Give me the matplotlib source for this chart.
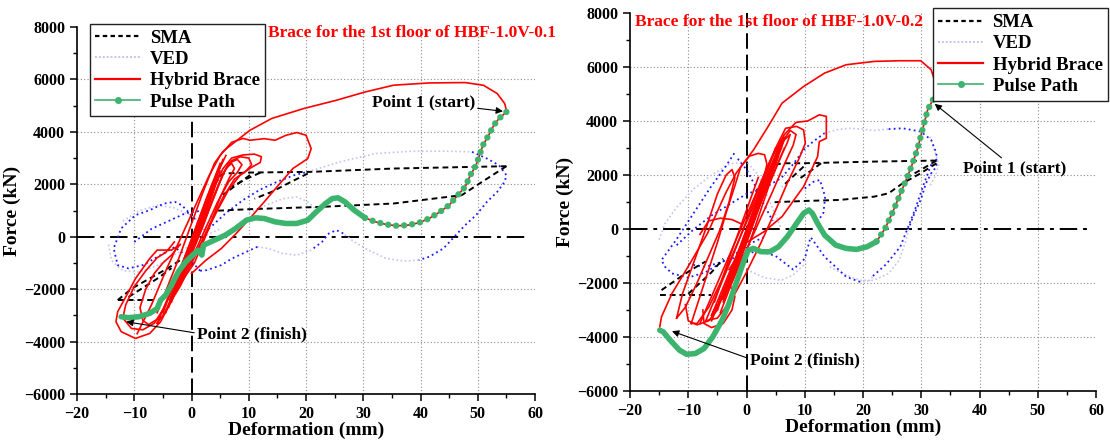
import matplotlib
matplotlib.use("Agg")
import matplotlib.pyplot as plt
from matplotlib.lines import Line2D
from matplotlib.ticker import MultipleLocator

plt.rcParams['font.family'] = ['Liberation Serif', 'DejaVu Serif']
plt.rcParams['font.weight'] = 'bold'
plt.rcParams['axes.labelweight'] = 'bold'

RED = '#ff0000'
GREEN = '#3cb46e'
DBLUE = '#1a1aff'
FBLUE = '#c4c4f4'

# ---------------- Left panel (HBF-1.0V-0.1) ----------------
A_title = "Brace for the 1st floor of HBF-1.0V-0.1"
A_pulse_x = [55.0, 53.7, 52.8, 51.9, 50.9, 50.3, 49.7, 48.7, 47.8, 46.5, 45.0, 43.4, 41.5, 39.7, 37.8,
             35.9, 34.0, 32.1, 30.3, 28.4, 26.8, 25.6, 24.6, 23.4, 21.8, 20.3, 18.4, 16.5, 14.6, 12.7,
             11.2, 9.6, 7.7, 5.9, 4.0, 2.1, 1.8, 1.2, 0.2, -1.0, -2.3, -3.5, -4.5, -5.4, -6.0, -7.3,
             -9.2, -11.0, -12.3]
A_pulse_y = [4760, 4506, 4252, 3871, 3490, 3109, 2728, 2347, 1902, 1584, 1203, 949, 695, 530, 441,
             416, 467, 568, 721, 1013, 1330, 1483, 1457, 1267, 949, 632, 505, 505, 568, 695,
             721, 632, 314, 60, -131, -321, -700, -512, -702, -956, -1337, -1845, -2227, -2417, -2735, -2925,
             -3052, -3090, -3052]
A_fast_end = 18   # index where the sparsely sampled (dotted-looking) part of the pulse path ends

A_red = [
    ([-6.0, -4.0, -2.0, 0.0, 2.0, 4.0, 5.5, 6.5, 10.2, 14.0, 19.6, 25.3, 30.3, 35.3, 41.5, 47.8, 51.0, 53.4, 54.7, 55.0],
     [-2900, -1800, -700, 500, 1700, 2800, 3250, 3430, 4060, 4510, 4890, 5205, 5520, 5780, 5866, 5880, 5777, 5460, 5080, 4820]),
    ([-9.5, -7.0, -4.5, -2.0, 0.5, 3.0, 5.0, 7.0, 9.0, 10.2, 12.7, 14.6, 16.5, 18.4, 20.0, 20.9, 20.3, 17.7, 15.2, 12.7, 10.2, 7.7, 5.2, 2.5, 0.0],
     [-3700, -2600, -1300, -100, 1100, 2300, 3100, 3600, 3750, 3680, 3740, 3680, 3870, 3975, 3870, 3360, 2980, 2600, 1970, 1330, 700, 100, -450, -900, -1400]),
    ([-6.0, -3.5, -1.0, 1.5, 4.0, 5.5, 7.0, 9.0, 11.0, 12.2, 12.0, 10.5, 8.5, 6.5, 4.5, 2.0, -0.5, -3.0, -5.0, -6.0],
     [-3300, -2000, -700, 600, 1900, 2600, 3000, 3120, 3150, 3050, 2830, 2650, 2350, 1800, 1000, -100, -1100, -2200, -3000, -3300]),
    ([-4.0, -1.5, 1.0, 3.5, 5.5, 7.0, 8.5, 10.0, 10.5, 9.5, 7.5, 5.5, 3.0, 0.5, -2.0, -4.0],
     [-2600, -1300, 0, 1300, 2400, 2900, 3050, 3000, 2750, 2500, 2200, 1500, 400, -800, -1900, -2600]),
    ([-3.0, -0.5, 2.0, 4.0, 5.5, 6.5, 8.0, 8.8, 8.0, 6.5, 4.5, 2.0, -0.5, -3.0],
     [-2200, -900, 400, 1600, 2400, 2800, 2950, 2750, 2450, 2100, 1300, 100, -1100, -2200]),
    ([-2.0, 0.5, 3.0, 5.0, 6.0, 7.0, 7.5, 6.5, 5.0, 3.0, 0.5, -2.0],
     [-1800, -400, 1000, 2100, 2600, 2800, 2600, 2200, 1500, 300, -1000, -1800]),
    ([-4.2, -5.4, -7.3, -9.8, -12.3, -13.2, -12.9, -11.5, -9.8, -7.3, -6.0, -3.5, -2.0],
     [-2735, -3243, -3690, -3880, -3620, -3240, -2860, -2300, -1600, -830, -510, -510, -300]),
    ([-5.0, -6.5, -8.5, -10.5, -12.0, -11.5, -10.0, -8.0, -6.0, -4.5, -3.0],
     [-2800, -3300, -3550, -3500, -3100, -2600, -1900, -1300, -800, -600, -200]),
    ([-4.5, -6.0, -7.5, -8.5, -9.0, -8.0, -6.5, -5.0, -3.5, -2.0],
     [-2600, -3150, -3350, -3200, -2700, -2000, -1400, -1000, -700, -300]),
    ([-5.0, -2.5, 0.0, 2.5, 5.0], [-2900, -1500, -100, 1400, 2800]),
    ([-4.5, -2.0, 0.5, 3.0, 5.5], [-2900, -1400, 0, 1500, 2950]),
    ([-3.5, -1.0, 1.5, 4.0], [-2500, -1000, 400, 1900]),
    ([-3.0, -0.5, 2.0, 4.5], [-2000, -500, 900, 2300]),
    ([-2.5, 0.0, 2.5], [-1900, -400, 1100]),
    ([-4.0, -1.8, 0.8, 3.2, 5.0], [-2700, -1500, -100, 1300, 2500]),
    ([-3.8, -1.2, 1.0, 3.6, 6.0], [-2400, -800, 500, 2000, 3100]),
    ([-2.2, 0.2, 2.8, 4.8], [-1600, -200, 1300, 2600]),
]

A_ved_dark = [
    ([49.0, 51.6, 53.7, 55.0, 54.7, 53.4, 51.6, 49.7, 47.8, 45.9, 44.0, 41.5, 39.7],
     [3236, 2982, 2728, 2347, 2093, 1711, 1330, 822, 441, 0, -448, -766, -893]),
    ([26.5, 25.3, 24.0, 22.8, 20.9], [124, 251, 124, -194, -512]),
    ([11.5, 9.6, 7.1, 5.2, 2.7, 1.5], [-385, -575, -829, -1083, -1274, -1300]),
    ([3.0, 6.0, 9.0, 12.0, 15.0, 18.0, 20.3], [300, 900, 1400, 1800, 2100, 2350, 2474]),
    ([1.5, -1.0, -3.0, -5.4, -8.5, -11.0, -12.9, -13.6, -12.3, -9.8, -7.3, -4.8, -2.9, -1.7, 0.5, 2.5],
     [-1300, -700, -400, -700, -1083, -1210, -1083, -448, 314, 822, 1013, 1267, 1330, 1203, 700, 200]),
    ([-10.0, -7.0, -4.0, -1.0, 2.0, 4.0], [-200, 300, 600, 900, 1000, 700]),
]
A_ved_faint = [
    ([20.3, 25.9, 32.1, 38.4, 44.7, 49.0], [2474, 2855, 3172, 3261, 3261, 3236]),
    ([39.7, 37.2, 34.0, 30.9, 28.4, 26.5], [-893, -930, -829, -512, -194, 124]),
    ([20.9, 18.4, 15.9, 13.4, 11.5], [-512, -702, -639, -448, -385]),
    ([10.0, 13.0, 16.0, 18.4, 20.3, 22.0], [900, 1200, 1450, 1520, 1330, 1000]),
    ([-14.5, -14.0, -12.0, -9.0, -6.0, -3.0, 0.0, 3.0, 5.0], [-300, -900, -1300, -1350, -1100, -700, -300, 100, 300]),
    ([-12.0, -9.0, -6.0, -3.0, 0.0, 3.0], [600, 1000, 1200, 1100, 800, 300]),
]
A_sma = [
    ([4.0, 5.5, 10.2, 20.9, 35.3, 55.0], [2000, 2410, 2448, 2474, 2601, 2690]),
    ([55.0, 50.3, 47.2, 35.3, 22.8, 10.2, 4.0], [2690, 2029, 1584, 1267, 1140, 1051, 987]),
    ([-12.9, -6.0], [-2417, -2417]),
    ([-12.9, -10.4, -7.3, -4.2, -2.0], [-2417, -1972, -1592, -1210, -900]),
    ([-11.0, -8.5, -6.0, -3.5], [-2300, -1950, -1600, -1200]),
    ([20.3, 17.0, 14.0, 11.0], [2410, 2050, 1710, 1450]),
    ([10.2, 8.0, 5.5], [2350, 2000, 1600]),
    ([12.0, 9.5, 7.0], [2440, 2200, 1900]),
]

# ---------------- Right panel (HBF-1.0V-0.2) ----------------
B_title = "Brace for the 1st floor of HBF-1.0V-0.2"
B_pulse_x = [32.0, 31.1, 30.5, 29.9, 29.3, 28.3, 27.4, 26.2, 25.0, 23.8, 22.3, 20.7, 18.9, 17.1, 15.3,
             13.4, 12.2, 11.3, 10.7, 9.8, 8.6, 7.0, 5.5, 4.0, 2.5, 1.2, 0.3, -0.6, -1.8, -3.0, -4.2,
             -5.8, -7.3, -8.8, -10.3, -11.5, -13.1, -14.3, -14.9]
B_pulse_y = [4785, 4414, 3919, 3424, 2930, 2311, 1817, 1198, 580, 23, -471, -657, -756, -719, -595,
             -224, 209, 580, 704, 580, 209, -286, -657, -843, -843, -719, -781, -1275, -2017, -2759, -3378,
             -3996, -4429, -4614, -4639, -4491, -4120, -3810, -3749]
B_fast_end = 10

B_red = [
    ([-14.9, -14.6, -12.8, -9.7, -6.7, -3.6, -1.8, 1.2, 3.7, 6.1, 9.8, 13.4, 17.1, 21.9, 26.2, 29.9, 31.7, 32.6, 32.4, 32.0],
     [-3625, -3254, -2388, -1275, -162, 1322, 2064, 2930, 3795, 4661, 5279, 5774, 6083, 6207, 6232, 6232, 5898, 5279, 4908, 4785]),
    ([-8.0, -5.0, -2.0, 1.0, 4.0, 6.5, 8.5, 10.5, 12.5, 13.7, 13.7, 12.5, 12.2, 9.8, 6.1, 3.0, 0.0, -3.0],
     [-3500, -2000, -500, 1000, 2500, 3500, 3950, 4000, 4230, 4170, 3360, 3240, 2680, 1570, 460, -100, -500, -1500]),
    ([-7.0, -4.5, -2.0, 0.5, 3.0, 5.0, 6.7, 8.6, 9.8, 10.1, 9.0, 7.0, 5.0, 2.5, 0.0, -2.5, -5.0, -7.0],
     [-3400, -2100, -800, 600, 2000, 3000, 3730, 3800, 3670, 3180, 2600, 1700, 700, -500, -1600, -2600, -3300, -3400]),
    ([-6.0, -3.5, -1.0, 1.5, 4.0, 6.0, 7.5, 8.5, 8.0, 6.5, 4.5, 2.0, -0.5, -3.0, -5.5, -6.0],
     [-3200, -1900, -600, 800, 2200, 3200, 3650, 3500, 3100, 2400, 1400, 200, -1000, -2200, -3000, -3200]),
    ([-5.0, -2.5, 0.0, 2.5, 5.0, 6.5, 7.5, 7.0, 5.5, 3.5, 1.0, -1.5, -4.0, -5.0],
     [-2900, -1600, -200, 1200, 2600, 3300, 3500, 3200, 2500, 1500, 300, -1000, -2300, -2900]),
    ([-4.0, -1.5, 1.0, 3.5, 5.5, 6.5, 6.0, 4.5, 2.5, 0.0, -2.5, -4.0],
     [-2600, -1200, 200, 1600, 2900, 3400, 3000, 2200, 1000, -300, -1600, -2600]),
    ([-9.5, -8.0, -6.5, -5.0, -3.5, -2.0, -1.0, 0.5, 2.0, 3.1, 3.5, 3.0, 1.5, -0.5, -2.5, -4.5, -6.5, -8.5, -9.5],
     [-3500, -2500, -1500, -500, 600, 1600, 2300, 2700, 2800, 2750, 2400, 1900, 1000, 0, -1000, -2000, -2900, -3500, -3500]),
    ([-12.0, -11.0, -9.0, -7.0, -5.0, -3.5, -2.5, -2.0, -3.0, -4.5, -6.5, -8.5, -10.5, -12.0],
     [-3300, -2400, -1200, 0, 1300, 2000, 2200, 1900, 1000, 0, -1000, -2000, -2900, -3300]),
    ([-8.0, -6.5, -4.5, -2.5, -1.0], [-200, 300, 400, 350, 200]),
    ([-7.5, -7.3, -6.0, -4.0, -2.5, -2.0, -3.0], [-3000, -3500, -3650, -3500, -3000, -2500, -2000]),
    ([-10.5, -10.0, -8.5, -6.5, -5.0, -4.5], [-2800, -3400, -3550, -3400, -3000, -2500]),
    ([-5.0, -2.5, 0.0, 2.5, 5.0], [-3000, -1500, 0, 1500, 3000]),
    ([-4.0, -1.5, 1.0, 3.5], [-2700, -1200, 300, 1800]),
    ([-3.0, -0.5, 2.0, 4.5], [-2200, -800, 700, 2200]),
    ([-2.5, 0.0, 2.5, 5.5], [-1800, -300, 1300, 3000]),
    ([-6.0, -3.0, 0.0, 3.0, 6.0], [-3400, -1800, -100, 1700, 3300]),
    ([-4.5, -2.0, 0.5, 3.0, 5.5], [-3100, -1700, -200, 1300, 2700]),
    ([-3.5, -1.0, 1.5, 4.0, 6.5], [-2900, -1400, 100, 1700, 3000]),
    ([-5.5, -3.0, -0.5, 2.0], [-2700, -1100, 400, 1900]),
]
B_ved_dark = [
    ([9.8, 11.5, 13.4], [2930, 3250, 3550]),
    ([24.4, 26.8, 29.9, 31.7, 32.6, 32.6, 31.7, 30.8, 29.9, 28.6, 27.8],
     [3700, 3730, 3610, 3300, 2810, 2310, 2060, 1690, 1080, 460, 0]),
    ([19.5, 17.1, 15.3, 13.4, 12.2, 11.0], [-1960, -1770, -1400, -1030, -660, -300]),
    ([10.0, 11.5, 12.6, 13.5, 13.2, 12.0], [1500, 1750, 1815, 1200, 600, 200]),
    ([21.7, 24.0, 26.4, 28.9, 30.5, 32.0], [-1740, -1300, -657, 704, 1700, 2556]),
    ([-2.1, -3.6, -6.1, -9.1, -12.1, -14.6, -14.0, -12.8, -10.0, -7.0, -4.0, -1.0, 1.0, 3.0],
     [2806, 2311, 1569, 580, -410, -1151, -1399, -1646, -1800, -1600, -1200, -800, -500, -300]),
    ([-1.5, 0.0, 1.5, 3.0, 4.5], [2600, 2200, 1600, 900, 300]),
    ([-12.0, -9.0, -6.0, -3.0, 0.0, 3.0, 6.0, 8.0, 9.8], [-600, 0, 500, 900, 1300, 1500, 1900, 2400, 2930]),
    ([-10.0, -7.0, -4.0, -1.0, 2.0, 5.0, 8.0, 10.0, 11.0], [-1300, -1400, -1200, -1000, -800, -1000, -1500, -1100, -300]),
]
B_ved_faint = [
    ([13.4, 15.5, 17.7, 19.8, 21.9, 24.4], [3550, 3680, 3730, 3700, 3650, 3700]),
    ([27.8, 27.4, 26.2, 24.4, 21.9, 19.5], [0, -410, -1150, -1650, -1890, -1960]),
    ([31.5, 32.4, 33.0, 32.5, 31.5], [3419, 2815, 2400, 2000, 1600]),
    ([14.3, 16.0, 17.8, 19.5, 21.2, 21.7], [-1396, -1600, -1766, -1900, -1900, -1740]),
    ([-15.0, -14.0, -12.0, -9.0, -6.0, -3.0, 0.0, 2.0, 4.0, 6.0], [-400, 200, 800, 1500, 2000, 2400, 2500, 2000, 1000, 0]),
    ([0.0, 3.0, 6.0, 8.0, 10.0], [-1500, -1800, -1900, -1700, -1300]),
]
B_sma = [
    ([4.9, 6.1, 9.8, 21.9, 32.6], [2373, 2435, 2435, 2497, 2534]),
    ([32.6, 29.9, 26.8, 24.4, 21.9, 15.9, 9.8, 4.3], [2435, 2064, 1693, 1322, 1198, 1075, 1037, 988]),
    ([-14.9, -6.1], [-2450, -2450]),
    ([-14.6, -12.5, -10.9, -9.0, -7.0], [-2264, -1950, -1708, -1450, -1200]),
    ([-10.0, -8.0, -6.0, -4.0], [-2400, -2000, -1600, -1100]),
    ([9.8, 8.0, 6.1], [2311, 1950, 1569]),
    ([12.8, 11.0, 9.0], [2435, 2150, 1850]),
    ([32.6, 30.0, 27.5], [2534, 2200, 1900]),
]

X_TICKS = [-20, -10, 0, 10, 20, 30, 40, 50, 60]
Y_TICKS = [-6000, -4000, -2000, 0, 2000, 4000, 6000, 8000]
LEGEND_LABELS = ['SMA', 'VED', 'Hybrid Brace', 'Pulse Path']

# annotation anchor/text positions (data coords)
A_p1 = dict(xy=(54.4, 4786), text=(49.5, 5138))
A_p2 = dict(xy=(-11.4, -3243), text=(0.96, -3743))
B_p1 = dict(xy=(32.3, 4636), text=(37.2, 2237))
B_p2 = dict(xy=(-12.8, -3786), text=(0.6, -4874))

fig = plt.figure(figsize=(11.1, 4.44), dpi=100)
axA = fig.add_axes([0.0694, 0.1126, 0.4126, 0.8266])
axB = fig.add_axes([0.5676, 0.1194, 0.4198, 0.8513])


def draw(ax, red, ved_d, ved_f, sma, px, py, fast_end, title, title_pos, p1, p2, p1_ha,
         leg_anchor, leg_loc):
    ax.set_xlim(-20, 60)
    ax.set_ylim(-6000, 8000)
    for t in X_TICKS[1:-1]:
        if t != 0:
            ax.axvline(t, color='#8c8c8c', lw=0.8, ls=(0, (1, 2)), zorder=0)
    for t in Y_TICKS[1:-1]:
        if t != 0:
            ax.axhline(t, color='#8c8c8c', lw=0.8, ls=(0, (1, 2)), zorder=0)
    ax.axhline(0, xmin=0, xmax=0.99, color='black', lw=1.4, ls=(0, (9, 3, 2, 3)), zorder=1)
    ax.axvline(0, color='black', lw=1.4, ls=(0, (8, 3)), zorder=1)

    for xs, ys in ved_f:
        ax.plot(xs, ys, color=FBLUE, lw=1.2, ls=(0, (1, 1.5)), zorder=2)
    for xs, ys in ved_d:
        ax.plot(xs, ys, color=DBLUE, lw=1.3, ls=(0, (1, 1.8)), zorder=2)
    for xs, ys in sma:
        ax.plot(xs, ys, color='black', lw=1.4, ls=(0, (3, 2)), zorder=3)
    for xs, ys in red:
        ax.plot(xs, ys, color=RED, lw=1.2, zorder=4)
    ax.plot(px, py, color=RED, lw=1.2, zorder=4)
    # sparsely sampled part: separated dots over the red curve
    ax.plot(px[:fast_end + 1], py[:fast_end + 1], color=GREEN, lw=4.6,
            ls=(0, (0.01, 1.25)), dash_capstyle='round', zorder=5)
    # densely sampled part: continuous thick band
    ax.plot(px[fast_end:], py[fast_end:], color=GREEN, lw=4.0,
            solid_capstyle='round', solid_joinstyle='round', zorder=5)

    ax.text(title_pos[0], title_pos[1], title, color=RED, fontsize=12.5, fontweight='bold',
            va='center', ha='left', zorder=6)
    ax.annotate('Point 1 (start)', xy=p1['xy'], xytext=p1['text'], fontsize=12.5, fontweight='bold',
                ha=p1_ha, va='center', zorder=7,
                arrowprops=dict(arrowstyle='-|>', color='black', lw=0.8, mutation_scale=10,
                                shrinkA=0, shrinkB=0))
    ax.annotate('Point 2 (finish)', xy=p2['xy'], xytext=p2['text'], fontsize=12.5, fontweight='bold',
                ha='left', va='center', zorder=7,
                arrowprops=dict(arrowstyle='-|>', color='black', lw=0.8, mutation_scale=10,
                                shrinkA=0, shrinkB=0, relpos=(0, 0.6)))

    for s in ['top', 'right']:
        ax.spines[s].set_visible(False)
    for s in ['left', 'bottom']:
        ax.spines[s].set_linewidth(1.2)
    ax.set_xticks(X_TICKS)
    ax.set_yticks(Y_TICKS)
    ax.xaxis.set_minor_locator(MultipleLocator(5))
    ax.yaxis.set_minor_locator(MultipleLocator(1000))
    ax.tick_params(which='major', direction='out', length=5, width=1.1, labelsize=11.5)
    ax.tick_params(which='minor', direction='out', length=3, width=1.0)
    for lab in ax.get_xticklabels() + ax.get_yticklabels():
        lab.set_fontweight('bold')
    ax.set_xlabel('Deformation (mm)', fontsize=14, fontweight='bold', labelpad=0)
    ax.set_ylabel('Force (kN)', fontsize=14, fontweight='bold', labelpad=2)

    handles = [Line2D([], [], color='black', lw=1.6, ls=(0, (2, 1.5))),
               Line2D([], [], color=FBLUE, lw=1.4, ls=(0, (1, 1))),
               Line2D([], [], color=RED, lw=1.6),
               Line2D([], [], color=GREEN, lw=1.2, marker='o', ms=4)]
    leg = ax.legend(handles, LEGEND_LABELS, loc=leg_loc, bbox_to_anchor=leg_anchor,
                    fontsize=13.5, frameon=True, fancybox=False, framealpha=1,
                    edgecolor='#222222', borderpad=0.3, labelspacing=0.22,
                    handlelength=2.4, handletextpad=0.5, borderaxespad=0)
    leg.get_frame().set_linewidth(1.0)
    leg.set_zorder(10)
    for t in leg.get_texts():
        t.set_fontweight('bold')


draw(axA, A_red, A_ved_dark, A_ved_faint, A_sma, A_pulse_x, A_pulse_y, A_fast_end, A_title,
     (13.4, 7752), A_p1, A_p2, 'right', (0.028, 1.008), 'upper left')
draw(axB, B_red, B_ved_dark, B_ved_faint, B_sma, B_pulse_x, B_pulse_y, B_fast_end, B_title,
     (-19.1, 7678), B_p1, B_p2, 'left', (1.026, 1.012), 'upper right')

fig.savefig('out.png', dpi=100)
